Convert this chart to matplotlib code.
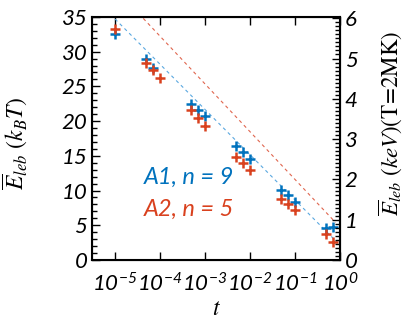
import numpy as np
import matplotlib
matplotlib.use("Agg")
from matplotlib import pyplot as plt
from matplotlib.ticker import MultipleLocator, LogLocator, NullFormatter

# measured points (t, mean energy in kT)
blue_t = [1e-5, 5e-5, 7e-5, 5e-4, 7e-4, 1e-3, 5e-3, 7e-3, 1e-2, 5e-2, 7e-2, 1e-1, 5e-1, 7e-1]
blue_E = [32.5, 28.9, 27.7, 22.5, 21.6, 20.7, 16.4, 15.5, 14.6, 10.1, 9.3, 8.35, 4.6, 4.8]
red_t = [1e-5, 5e-5, 7e-5, 1e-4, 5e-4, 7e-4, 1e-3, 5e-3, 7e-3, 1e-2, 5e-2, 7e-2, 1e-1, 5e-1, 7e-1]
red_E = [33.2, 28.35, 27.3, 26.2, 21.55, 20.4, 19.3, 14.85, 14.0, 13.0, 8.8, 8.1, 7.2, 3.7, 2.6]

# dashed fit lines (end points)
blue_fit_t = [1e-5, 0.85]
blue_fit_E = [34.7, 2.6]
red_fit_t = [1e-5, 0.8]
red_fit_E = [39.1, 5.4]

x_ticks = [1e-5, 1e-4, 1e-3, 1e-2, 1e-1, 1e0]
x_labels = [r'$10^{-5}$', r'$10^{-4}$', r'$10^{-3}$',
            r'$10^{-2}$', r'$10^{-1}$', r'$10^{0}$']
left_ticks = [0, 5, 10, 15, 20, 25, 30, 35]
right_ticks = [0, 1, 2, 3, 4, 5, 6]
kT_keV = 0.17235  # kT at T = 2 MK in keV

blue = '#0072BD'
red = '#D9411E'

# italic sans for the tick labels
plt.rcParams['mathtext.fontset'] = 'custom'
plt.rcParams['mathtext.rm'] = 'Lato:italic'
plt.rcParams['mathtext.it'] = 'Lato:italic'
plt.rcParams['mathtext.sf'] = 'Lato:italic'

fig = plt.figure(figsize=(4.15, 3.32), dpi=100)
ax = fig.add_axes([0.222, 0.217, 0.597, 0.732])

ax.plot(blue_fit_t, blue_fit_E, linestyle=(0, (3, 3)), color='#5aa8e0', lw=0.8)
ax.plot(red_fit_t, red_fit_E, linestyle=(0, (3, 3)), color='#e0664f', lw=0.8)
ax.plot(blue_t, blue_E, '+', color=blue, ms=6.5, mew=1.8)
ax.plot(red_t, red_E, '+', color=red, ms=6.5, mew=1.8)

ax.set_xscale('log')
ax.set_xlim(10 ** -5.51, 1.0)
ax.set_ylim(0, 35)
ax.set_xticks(x_ticks)
ax.set_xticklabels(x_labels, fontsize=16)
ax.xaxis.set_minor_locator(LogLocator(base=10, subs=np.arange(2, 10)))
ax.xaxis.set_minor_formatter(NullFormatter())
ax.set_yticks(left_ticks)
ax.set_yticklabels([str(v) for v in left_ticks], fontsize=16, family='Lato', fontstyle='italic')
ax.yaxis.set_minor_locator(MultipleLocator(1))
ax.tick_params(which='both', direction='in', top=True, right=False, width=1)
ax.tick_params(which='major', length=6)
ax.tick_params(which='minor', length=3.5)
ax.tick_params(axis='x', pad=9)
for s in ax.spines.values():
    s.set_linewidth(1.5)

ax.set_xlabel(r'$t$', fontsize=17, math_fontfamily='stix', labelpad=0)
ax.set_ylabel(r'$\overline{E}_{leb}\ (k_BT)$', fontsize=17, math_fontfamily='stix')
ax.yaxis.set_label_coords(-0.25, 0.48)

ax2 = ax.twinx()
ax2.set_ylim(0, 35 * kT_keV)
ax2.set_yticks(right_ticks)
ax2.set_yticklabels([str(v) for v in right_ticks], fontsize=16, family='Lato', fontstyle='italic')
ax2.yaxis.set_minor_locator(MultipleLocator(0.1))
ax2.tick_params(which='both', direction='in', width=1)
ax2.tick_params(which='major', length=6)
ax2.tick_params(which='minor', length=3.5)
ax2.set_ylabel(r'$\overline{E}_{leb}\ (keV)(\mathrm{T\!=\!2MK})$', fontsize=16.5,
               math_fontfamily='stix')
ax2.yaxis.set_label_coords(1.15, 0.56)

ax.text(0.21, 0.34, 'A1, n = 9', color=blue, fontsize=17, family='Lato',
        fontstyle='italic', transform=ax.transAxes, va='center')
ax.text(0.21, 0.21, 'A2, n = 5', color=red, fontsize=17, family='Lato',
        fontstyle='italic', transform=ax.transAxes, va='center')

fig.savefig('out.png', dpi=100)
